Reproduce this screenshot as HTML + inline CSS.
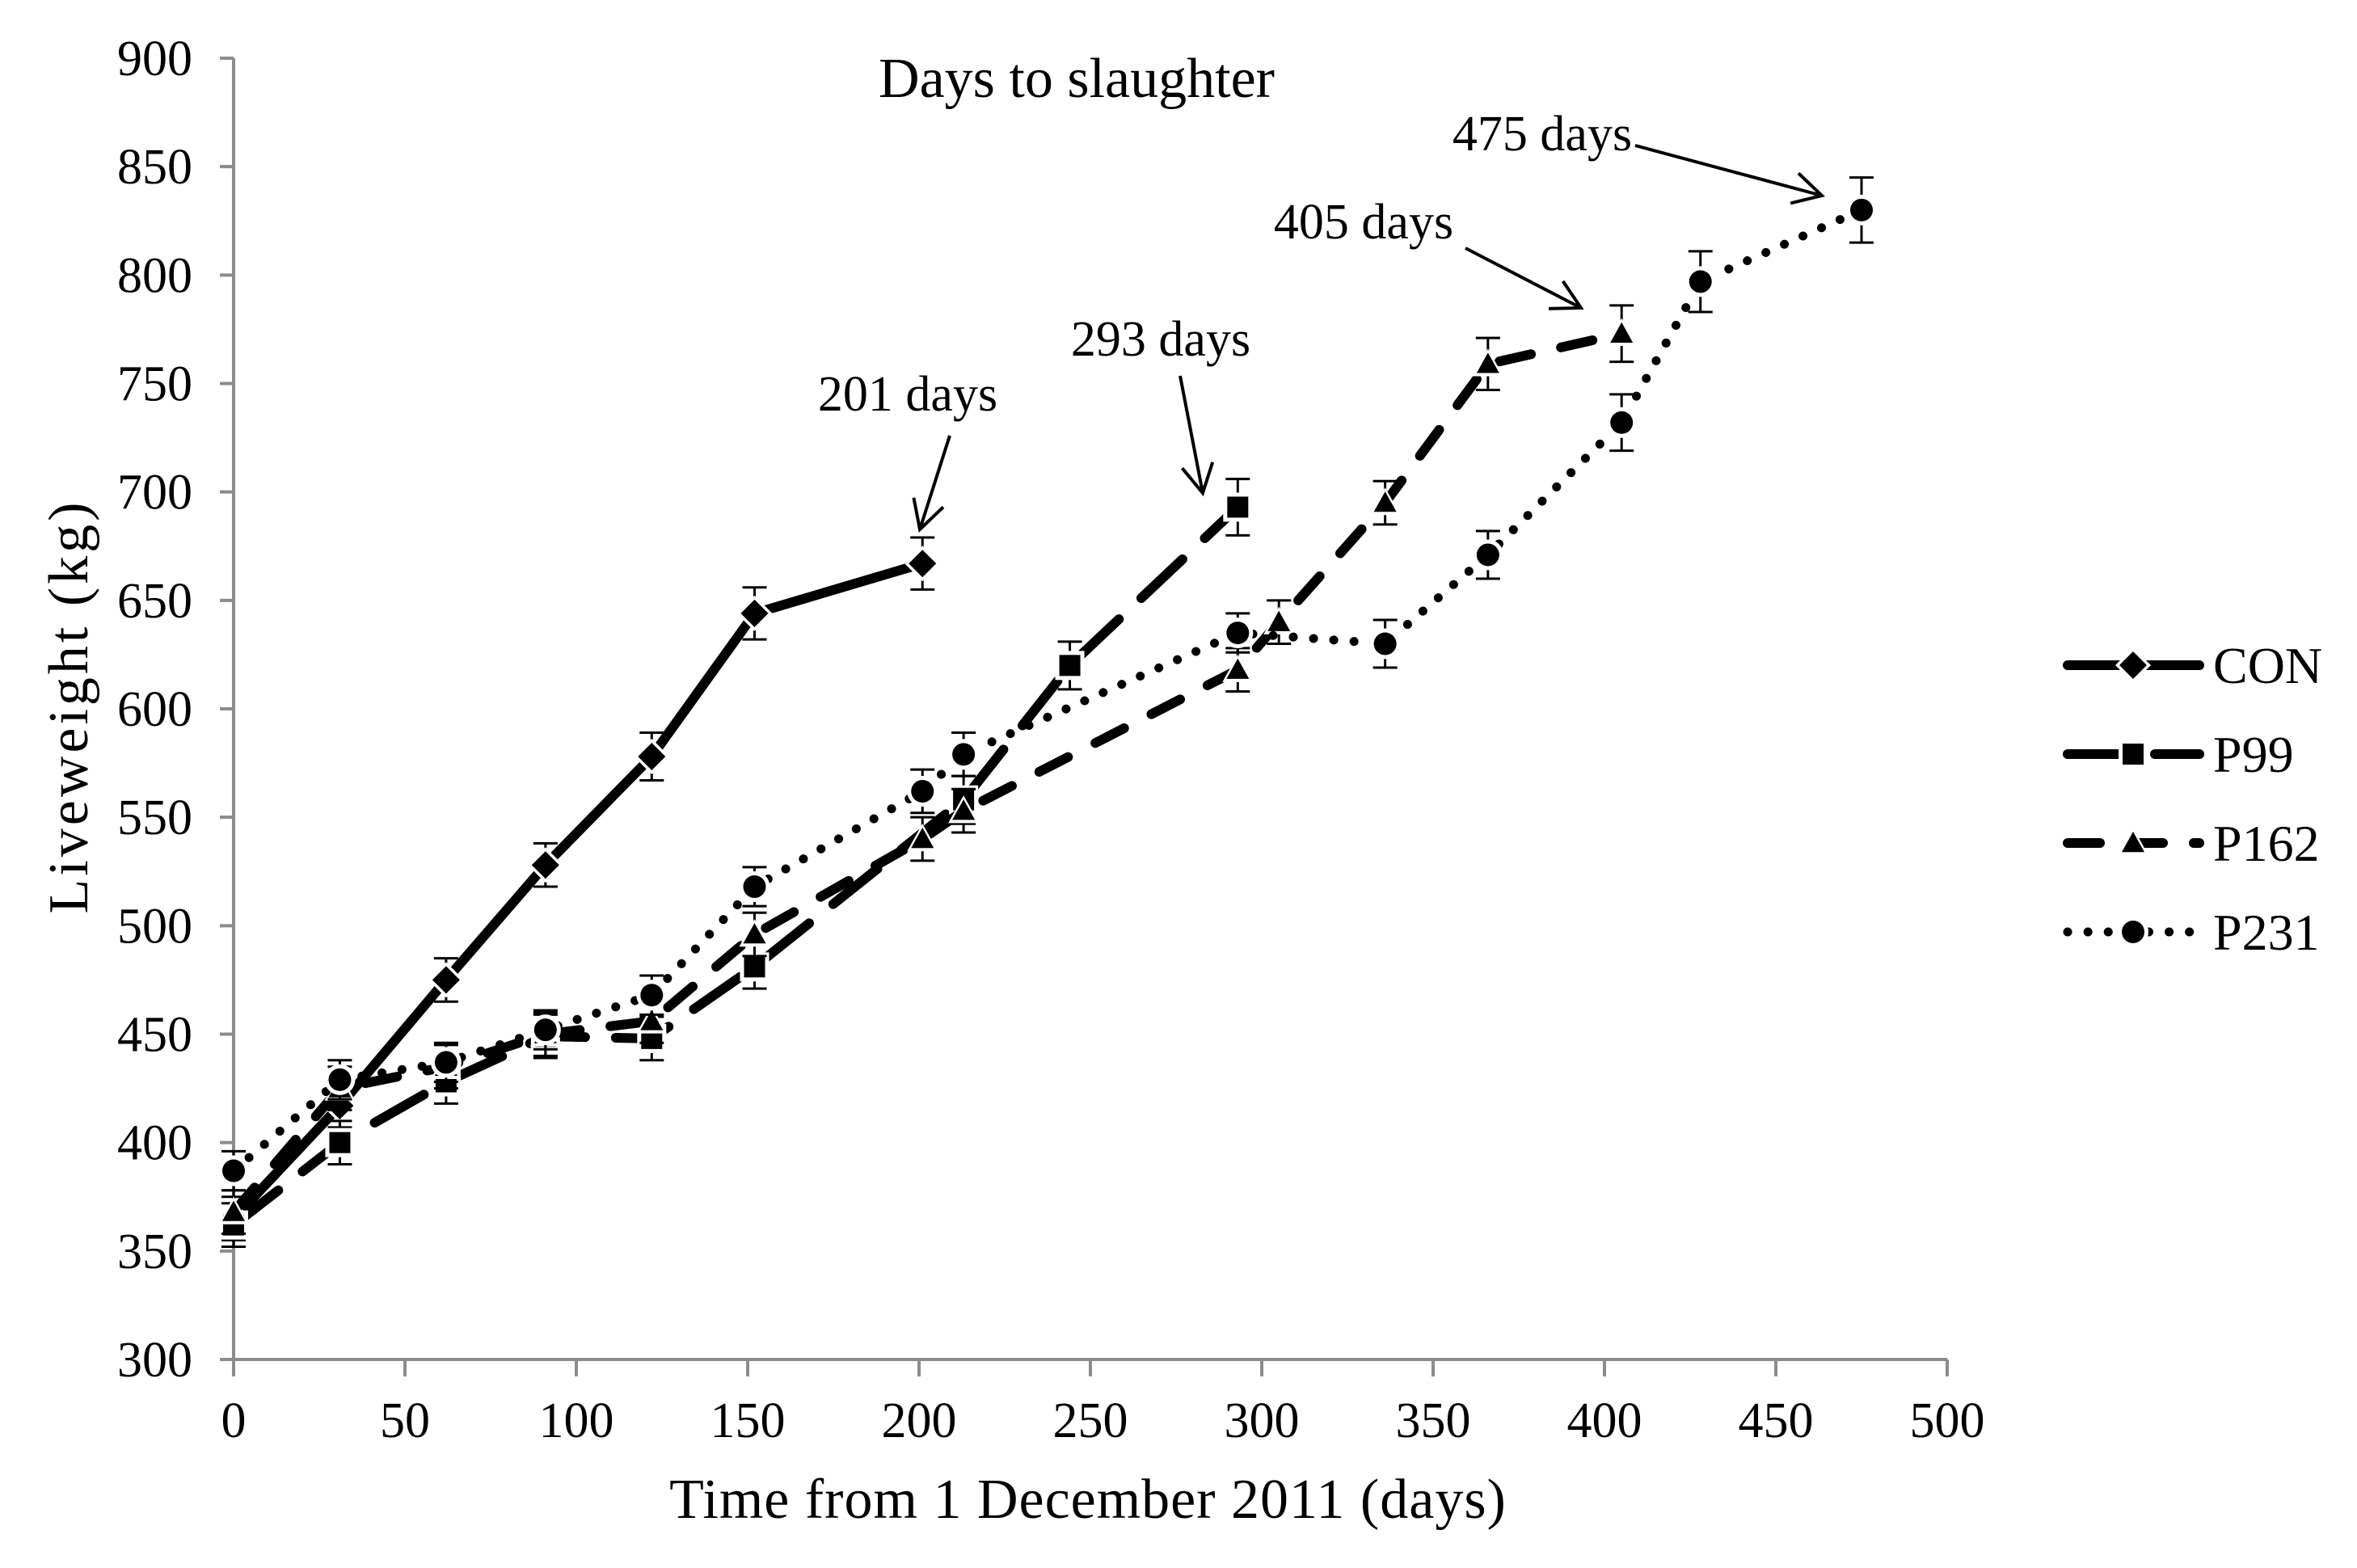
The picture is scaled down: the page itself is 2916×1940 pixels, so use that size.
<!DOCTYPE html>
<html><head><meta charset="utf-8"><style>
html,body{margin:0;padding:0;background:#fff;}
svg{display:block;}
text{font-family:"Liberation Serif",serif;fill:#000;}
</style></head><body>
<svg id="chart" width="2916" height="1940" viewBox="0 0 2916 1940" xmlns="http://www.w3.org/2000/svg">
<g id="axes"></g>
<g id="series"></g>
<g id="annot"></g>
<g id="legend"></g>
</svg>
<script>
const xTicks=[0,50,100,150,200,250,300,350,400,450,500];
const yTicks=[300,350,400,450,500,550,600,650,700,750,800,850,900];
const conDays=[0,31,62,91,122,152,201];
const conWt=[365,417,475,528,578,644,667];
const conErr=[10,10,10,10,11,12,12];
const p99Days=[0,31,62,91,122,152,213,244,293];
const p99Wt=[362,400,428,449,448,481,558,620,693];
const p99Err=[10,10,10,10,10,10,11,11,13];
const p162Days=[0,31,62,91,122,152,201,213,293,305,336,366,405];
const p162Wt=[368,425,435,450,456,496,540,553,618,640,695,759,773];
const p162Err=[10,10,10,10,10,10,10,10,10,10,10,12,13];
const p231Days=[0,31,62,91,122,152,201,213,293,336,366,405,428,475];
const p231Wt=[387,429,437,452,468,518,562,579,635,630,671,732,797,830];
const p231Err=[9,9,9,9,9,9,10,10,9,11,11,13,14,15];
const seriesNames=["CON","P99","P162","P231"];

const NS="http://www.w3.org/2000/svg";
const X0=289,X1=2409,Y0=1682,Y1=72;
function xs(d){return X0+(d-0)/(500-0)*(X1-X0);}
function ys(v){return Y0-(v-300)/(900-300)*(Y0-Y1);}
function mk(tag,attrs,parent){const e=document.createElementNS(NS,tag);for(const k in attrs)e.setAttribute(k,attrs[k]);parent.appendChild(e);return e;}

const axes=document.getElementById('axes');
let a=mk('line',{x1:X0,y1:Y1,x2:X0,y2:Y0+21,stroke:'#8c8c8c','stroke-width':4},axes);


a=mk('line',{x1:X0-17,y1:Y0,x2:X1,y2:Y0,stroke:'#8c8c8c','stroke-width':4},axes);


yTicks.forEach(v=>{
  const t=mk('line',{x1:X0-17,y1:ys(v),x2:X0,y2:ys(v),stroke:'#8c8c8c','stroke-width':4},axes);
  
  
  const l=mk('text',{x:238,y:ys(v)+21,'text-anchor':'end','font-size':62},axes);
  l.textContent=v;
  
  
});
xTicks.forEach(d=>{
  const t=mk('line',{x1:xs(d),y1:Y0,x2:xs(d),y2:Y0+21,stroke:'#8c8c8c','stroke-width':4},axes);
  
  
  const l=mk('text',{x:xs(d),y:1778,'text-anchor':'middle','font-size':62},axes);
  l.textContent=d;
  
  
});
let tt=mk('text',{x:1346,y:1878,'text-anchor':'middle','font-size':70,'letter-spacing':1},axes);
tt.textContent="Time from 1 December 2011 (days)";


tt=mk('text',{x:0,y:0,'text-anchor':'middle','font-size':70,'letter-spacing':4,transform:'translate(108,874) rotate(-90)'},axes);
tt.textContent="Liveweight (kg)";



const styles={
  CON:{dash:null,cap:'round',marker:'diamond'},
  P99:{dash:'70 38',cap:'round',marker:'square'},
  P162:{dash:'40 38',cap:'round',marker:'triangle'},
  P231:{dash:'0.1 25',cap:'round',marker:'circle'}
};
function marker(type,cx,cy,g,bg){
  const fill=bg?'#fff':'#000';const e=bg?5:0;let m;
  if(type==='diamond'){const r=17+e;m=mk('polygon',{points:`${cx},${cy-r} ${cx+r},${cy} ${cx},${cy+r} ${cx-r},${cy}`,fill},g);}
  else if(type==='square'){const r=13+e;m=mk('rect',{x:cx-r,y:cy-r,width:2*r,height:2*r,fill},g);}
  else if(type==='triangle'){const r=14+e;m=mk('polygon',{points:`${cx},${cy-r} ${cx+r},${cy+r*0.8} ${cx-r},${cy+r*0.8}`,fill},g);}
  else {m=mk('circle',{cx,cy,r:14+e,fill},g);}
  return m;
}
const seriesDefs=[
  ['CON',conDays,conWt,conErr],
  ['P99',p99Days,p99Wt,p99Err],
  ['P162',p162Days,p162Wt,p162Err],
  ['P231',p231Days,p231Wt,p231Err]
];
const sg=document.getElementById('series');
seriesDefs.forEach(([name,days,wt,err])=>{
  const st=styles[name];
  const g=mk('g',{},sg);
  
  
  days.forEach((d,i)=>{
    const x=xs(d),yt=ys(wt[i]+err[i]),yb=ys(wt[i]-err[i]);
    const eb=mk('path',{d:`M${x},${yt}V${yb}M${x-15},${yt}H${x+15}M${x-15},${yb}H${x+15}`,stroke:'#000','stroke-width':3,fill:'none'},g);
    
    
  });
  const pts=days.map((d,i)=>xs(d)+','+ys(wt[i])).join(' ');
  const attrs={points:pts,fill:'none',stroke:'#000','stroke-width':st.marker==='circle'?11:12,'stroke-linecap':st.cap,'stroke-linejoin':'round'};
  if(st.dash)attrs['stroke-dasharray']=st.dash;
  const ln=mk('polyline',attrs,g);
  
  
  days.forEach((d,i)=>{
    marker(st.marker,xs(d),ys(wt[i]),g,true);
    const m=marker(st.marker,xs(d),ys(wt[i]),g,false);
    
    
  });
});

const an=document.getElementById('annot');
let ti=mk('text',{x:1332,y:120,'text-anchor':'middle','font-size':70},an);
ti.textContent="Days to slaughter";


const notes=[["201 days",1123,508,1175,539,1138,655],["293 days",1436,440,1460,465,1488,610],["405 days",1687,295,1813,307,1956,381],["475 days",1908,186,2023,180,2254,242]];
notes.forEach(([txt,tx,ty,x1,y1,x2,y2])=>{
  const t=mk('text',{x:tx,y:ty,'text-anchor':'middle','font-size':62},an);
  t.textContent=txt;
  
  
  const ang=Math.atan2(y2-y1,x2-x1),L=40,s=0.5;
  const ax=x2-L*Math.cos(ang-s),ay=y2-L*Math.sin(ang-s),bx=x2-L*Math.cos(ang+s),by=y2-L*Math.sin(ang+s);
  const ar=mk('path',{d:`M${x1},${y1}L${x2},${y2}M${ax},${ay}L${x2},${y2}L${bx},${by}`,stroke:'#000','stroke-width':4,fill:'none'},an);
  
  
});

const lg=document.getElementById('legend');
const legY=[823,933,1043,1153];
seriesNames.forEach((n,i)=>{
  const st=styles[n];const y=legY[i];
  const g=mk('g',{},lg);
  
  
  const attrs={x1:2558,y1:y,x2:2721,y2:y,stroke:'#000','stroke-width':st.marker==='circle'?11:12,'stroke-linecap':'round'};
  if(st.dash)attrs['stroke-dasharray']=st.dash;
  mk('line',attrs,g);
  marker(st.marker,2639,y,g,true);
  marker(st.marker,2639,y,g,false);
  const t=mk('text',{x:2738,y:y+22,'font-size':64},g);
  t.textContent=n;
});
</script>
</body></html>
